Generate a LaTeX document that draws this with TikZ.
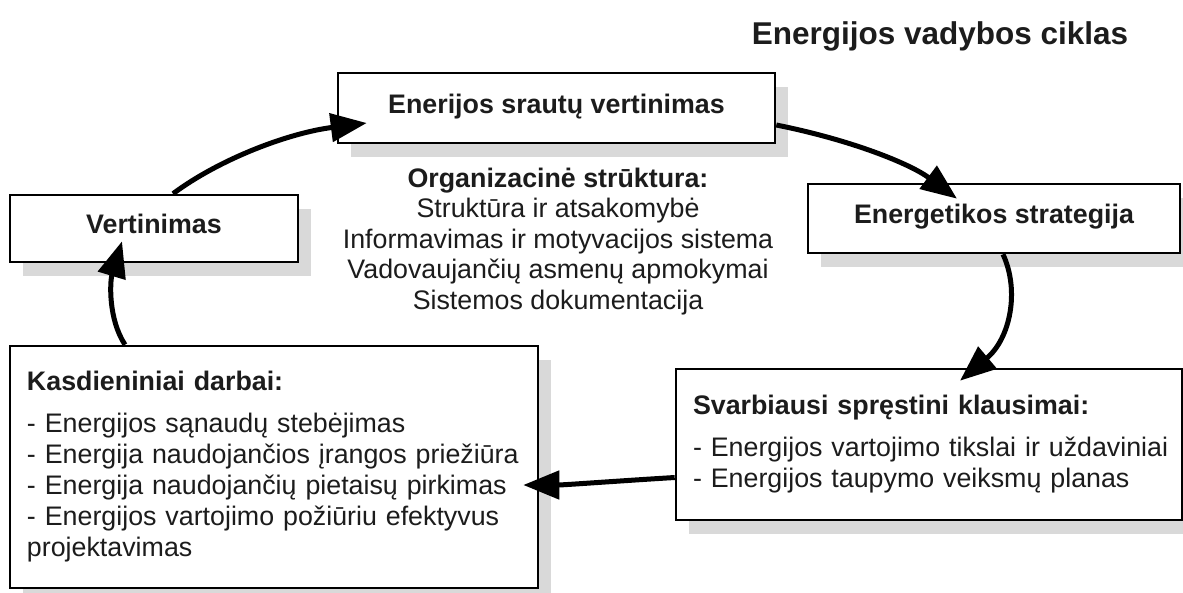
\documentclass[tikz,border=0pt]{standalone}
\usepackage{fontspec}
\setmainfont{Liberation Sans}
\usetikzlibrary{arrows.meta,shadows,calc}
\definecolor{shadecol}{RGB}{217,217,217}
\definecolor{ink}{RGB}{28,28,28}
\newcommand{\diafont}{\fontsize{26.8}{31}\selectfont}
\begin{document}
\begin{tikzpicture}[x=1pt,y=-1pt,
  every node/.style={text=ink},
  box/.style={draw=black, line width=2.6pt, fill=white, inner sep=0pt,
     drop shadow={shadow xshift=13pt, shadow yshift=-14pt, fill=shadecol, opacity=1, draw=none}},
  onebox/.style={box, font=\diafont\bfseries, text height=19pt, text depth=9pt, align=center},
  listbox/.style={box, font=\diafont, inner xsep=17pt, align=left},
  arr/.style={line width=5pt, -{Triangle[length=36pt,width=28pt]}}]
\fill[white] (0,0) rectangle (1183,592);
\useasboundingbox (0,0) rectangle (1183,592);

\node[font=\fontsize{31.5}{36}\selectfont\bfseries, anchor=base] (title) at (940,44) {Energijos vadybos ciklas};

\node[onebox, minimum width=437pt, minimum height=70pt] (top) at (556.5,108) {Enerijos srautų vertinimas};
\node[onebox, minimum width=288pt, minimum height=67pt] (vert) at (154,228.5) {Vertinimas};
\node[onebox, minimum width=372pt, minimum height=69pt] (energ) at (994,218.5) {Energetikos strategija};

\node[listbox, text width=494pt, minimum height=242pt] (kasd) at (274,467) {\textbf{Kasdieniniai darbai:}\\[11pt]
\mbox{- Energijos sąnaudų stebėjimas}\\
\mbox{- Energija naudojančios įrangos priežiūra}\\
\mbox{- Energija naudojančių pietaisų pirkimas}\\
\mbox{- Energijos vartojimo požiūriu efektyvus}\\
projektavimas};

\node[listbox, text width=472pt, minimum height=151pt] (svarb) at (929,444.5) {\mbox{\textbf{Svarbiausi spręstini klausimai:}}\\[11pt]
\mbox{- Energijos vartojimo tikslai ir uždaviniai}\\
\mbox{- Energijos taupymo veiksmų planas}};

\node[font=\fontsize{26.8}{30.5}\selectfont, align=center] (org) at (558,241.5) {\textbf{Organizacinė strūktura:}\\
Struktūra ir atsakomybė\\
Informavimas ir motyvacijos sistema\\
Vadovaujančių asmenų apmokymai\\
Sistemos dokumentacija};

\draw[arr] ($(vert.north)+(19,0)$) .. controls +(47,-35) and +(-78,10) .. ($(top.west)+(30,15)$);
\draw[arr] ($(top.east)+(0,17)$) .. controls +(75,15) and +(-47,-35) .. ($(energ.north)+(-37,16)$);
\draw[arr] ($(energ.south)+(9,0)$) .. controls +(17,37) and +(50,-42) .. ($(svarb.north)+(31,13)$);
\draw[arr] ($(svarb.west)+(0,33)$) .. controls +(-50,3) and +(40,0) .. ($(kasd.east)+(-16,18)$);
\draw[arr] ($(kasd.north)+(-149,0)$) .. controls +(-17,-26) and +(-12,40) .. ($(vert.south)+(-32,-22)$);
\end{tikzpicture}
\end{document}
